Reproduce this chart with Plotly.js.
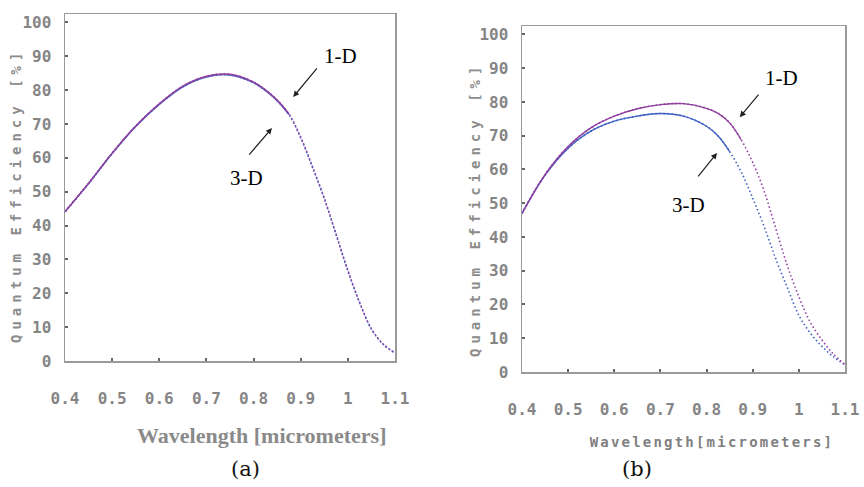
<!DOCTYPE html>
<html>
<head>
<meta charset="utf-8">
<script src="https://cdn.plot.ly/plotly-3.0.1.min.js"></script>
<style>
  html, body { margin: 0; padding: 0; background: #fff; }
  #chart { width: 864px; height: 487px; }
  g.annotation[data-index="0"] text, g.annotation[data-index="1"] text { letter-spacing: 5px; }
  g.annotation[data-index="2"] text { letter-spacing: 2.2px; }
</style>
</head>
<body>
<div id="chart"></div>
<script>
// ---- data ----
const wavelength = [0.40, 0.45, 0.50, 0.55, 0.60, 0.65, 0.70, 0.75, 0.80, 0.825, 0.85, 0.875, 0.90, 0.925, 0.95, 0.975, 1.00, 1.025, 1.05, 1.075, 1.10];
// panel (a)
const qeA_1D = [44.1, 52.5, 61.4, 69.4, 76.0, 81.2, 84.1, 84.7, 82.4, 80.1, 77.1, 73.0, 66.1, 57.4, 48.1, 37.5, 26.8, 17.3, 9.5, 5.0, 2.4];
const qeA_3D = [44.1, 52.4, 61.3, 69.3, 75.8, 81.0, 83.9, 84.5, 82.2, 79.9, 76.9, 72.8, 65.9, 57.2, 47.9, 37.3, 26.6, 17.2, 9.4, 4.9, 2.4];
// panel (b)
const qeB_1D = [47.0, 58.5, 66.8, 72.4, 75.8, 78.0, 79.2, 79.5, 78.1, 76.6, 73.8, 68.8, 62.1, 53.5, 42.5, 31.5, 22.3, 14.7, 9.5, 5.3, 2.2];
const qeB_3D = [47.0, 58.3, 66.3, 71.4, 74.3, 75.8, 76.6, 75.8, 72.8, 69.9, 65.3, 59.3, 51.5, 43.0, 33.5, 25.0, 16.8, 11.5, 7.6, 4.5, 2.2];

const xTickVals = [0.4, 0.5, 0.6, 0.7, 0.8, 0.9, 1.0, 1.1];
const xTickText = ['0.4', '0.5', '0.6', '0.7', '0.8', '0.9', '1', '1.1'];
const yTickVals = [0, 10, 20, 30, 40, 50, 60, 70, 80, 90, 100];
const yTickText = ['0', '10', '20', '30', '40', '50', '60', '70', '80', '90', '100'];

const yTitle = 'Quantum Efficiency [%]';
const xTitleA = 'Wavelength [micrometers]';
const xTitleB = 'Wavelength[micrometers]';
const labels = ['1-D', '3-D'];
const panelLabels = ['(a)', '(b)'];

// ---- styling ----
const PURPLE = '#9040a0';
const BLUE = '#4062c4';

// full curve dotted underneath, solid part drawn on top up to `split`
function curve(xs, ys, color, xa, ya, name, split) {
  const sx = [], sy = [];
  xs.forEach((x, i) => { if (x <= split) { sx.push(x); sy.push(ys[i]); } });
  return [
    { x: xs, y: ys, xaxis: xa, yaxis: ya, mode: 'lines', name: name, showlegend: false,
      line: { color: color, width: 1.6, shape: 'spline', smoothing: 1, dash: '1.5px,2.5px' }, hoverinfo: 'skip' },
    { x: sx, y: sy, xaxis: xa, yaxis: ya, mode: 'lines', name: name, showlegend: false,
      line: { color: color, width: 1.4, shape: 'spline', smoothing: 1 }, hoverinfo: 'skip' }
  ];
}

const data = [].concat(
  curve(wavelength, qeA_3D, BLUE, 'x', 'y', '3-D', 0.875),
  curve(wavelength, qeA_1D, PURPLE, 'x', 'y', '1-D', 0.875),
  curve(wavelength, qeB_3D, BLUE, 'x2', 'y2', '3-D', 0.85),
  curve(wavelength, qeB_1D, PURPLE, 'x2', 'y2', '1-D', 0.875)
);

const W = 864, H = 487;
const tickFont = { family: 'DejaVu Sans Mono', size: 16, color: '#858585', weight: 'bold' };

function xAxis(domain) {
  return {
    domain: domain, range: [0.4, 1.1], tickmode: 'array', tickvals: xTickVals, ticktext: xTickText,
    ticks: 'inside', ticklen: 3, tickwidth: 2, tickcolor: '#666',
    showline: true, linecolor: '#9a9a9a', linewidth: 1.5, mirror: true,
    showgrid: false, zeroline: false, tickfont: tickFont, ticklabelstandoff: 22,
    fixedrange: true
  };
}
function yAxis(domain, anchor) {
  return {
    domain: domain, range: [0, 102.5], tickmode: 'array', tickvals: yTickVals, ticktext: yTickText,
    ticks: 'inside', ticklen: 3, tickwidth: 2, tickcolor: '#666',
    showline: true, linecolor: '#9a9a9a', linewidth: 1.5, mirror: true,
    showgrid: false, zeroline: false, tickfont: tickFont, ticklabelstandoff: 9,
    anchor: anchor, fixedrange: true
  };
}

const px = (p) => p / W;
const py = (p) => 1 - p / H;

const monoTitle = { family: 'DejaVu Sans Mono', size: 14, color: '#8c8c8c', weight: 'bold' };

const annotations = [
  // 0,1: y titles ; 2: x title (b)
  { xref: 'paper', yref: 'paper', x: px(16), y: py(196), text: yTitle, textangle: -90, showarrow: false,
    xanchor: 'center', yanchor: 'middle', font: monoTitle },
  { xref: 'paper', yref: 'paper', x: px(475), y: py(210), text: yTitle, textangle: -90, showarrow: false,
    xanchor: 'center', yanchor: 'middle', font: monoTitle },
  { xref: 'paper', yref: 'paper', x: px(712), y: py(442), text: xTitleB, showarrow: false,
    xanchor: 'center', yanchor: 'middle', font: { family: 'DejaVu Sans Mono', size: 14, color: '#808080', weight: 'bold' } },
  { xref: 'paper', yref: 'paper', x: px(261), y: py(435), text: xTitleA, showarrow: false,
    xanchor: 'center', yanchor: 'middle', font: { family: 'Liberation Serif', size: 22, color: '#8a8a8a', weight: 'bold' } },
  { xref: 'paper', yref: 'paper', x: px(245), y: py(469), text: panelLabels[0], showarrow: false,
    xanchor: 'center', yanchor: 'middle', font: { family: 'DejaVu Serif', size: 21, color: '#111' } },
  { xref: 'paper', yref: 'paper', x: px(637), y: py(469), text: panelLabels[1], showarrow: false,
    xanchor: 'center', yanchor: 'middle', font: { family: 'DejaVu Serif', size: 21, color: '#111' } },
  // curve labels
  { xref: 'x', yref: 'y', x: 0.985, y: 90.1, text: labels[0], showarrow: false, font: { family: 'Liberation Serif', size: 21, color: '#000' } },
  { xref: 'x', yref: 'y', x: 0.784, y: 54.1, text: labels[1], showarrow: false, font: { family: 'Liberation Serif', size: 21, color: '#000' } },
  { xref: 'x2', yref: 'y2', x: 0.963, y: 87.1, text: labels[0], showarrow: false, font: { family: 'Liberation Serif', size: 21, color: '#000' } },
  { xref: 'x2', yref: 'y2', x: 0.760, y: 49.5, text: labels[1], showarrow: false, font: { family: 'Liberation Serif', size: 21, color: '#000' } },
  // arrows
  { xref: 'x', yref: 'y', x: 0.884, y: 78.0, ax: 25, ay: -30, text: '', showarrow: true, arrowhead: 2, arrowsize: 1, arrowwidth: 1.2, arrowcolor: '#222' },
  { xref: 'x', yref: 'y', x: 0.839, y: 68.8, ax: -24, ay: 28, text: '', showarrow: true, arrowhead: 2, arrowsize: 1, arrowwidth: 1.2, arrowcolor: '#222' },
  { xref: 'x2', yref: 'y2', x: 0.872, y: 75.5, ax: 20, ay: -24, text: '', showarrow: true, arrowhead: 2, arrowsize: 1, arrowwidth: 1.2, arrowcolor: '#222' },
  { xref: 'x2', yref: 'y2', x: 0.8226, y: 64.9, ax: -20, ay: 25, text: '', showarrow: true, arrowhead: 2, arrowsize: 1, arrowwidth: 1.2, arrowcolor: '#222' }
];

const layout = {
  width: W, height: H,
  margin: { l: 0, r: 0, t: 0, b: 0 },
  paper_bgcolor: '#fff', plot_bgcolor: '#fff',
  showlegend: false,
  xaxis: Object.assign(xAxis([px(65), px(395)]), { anchor: 'y' }),
  yaxis: yAxis([py(361), py(14)], 'x'),
  xaxis2: Object.assign(xAxis([px(522), px(845)]), { anchor: 'y2' }),
  yaxis2: yAxis([py(372), py(26)], 'x2'),
  annotations: annotations
};

Plotly.newPlot('chart', data, layout, { staticPlot: true, displayModeBar: false });
</script>
</body>
</html>
